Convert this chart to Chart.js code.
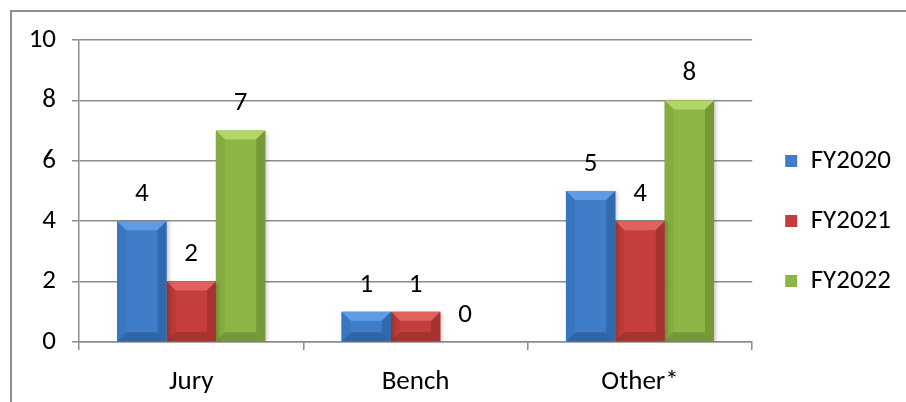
<!DOCTYPE html>
<html>
<head>
<meta charset="utf-8">
<script src="https://cdn.jsdelivr.net/npm/chart.js@4/dist/chart.umd.min.js"></script>
<style>
  html, body { margin: 0; padding: 0; background: #fff; overflow: hidden; }
  #frame { position: absolute; left: 10px; top: 10px; width: 1000px; height: 1000px; border: 2px solid #8f8f8f; }
  #wrap { position: absolute; left: 0; top: 0; width: 906px; height: 402px; }
</style>
</head>
<body>
<div id="frame"></div>
<div id="wrap"><canvas id="chart" width="906" height="402"></canvas></div>
<script>
// data
var categories = ['Jury', 'Bench', 'Other*'];
var seriesNames = ['FY2020', 'FY2021', 'FY2022'];
var fy2020 = [4, 1, 5];
var fy2021 = [2, 1, 4];
var fy2022 = [7, 0, 8];
var yTicks = [0, 2, 4, 6, 8, 10];

var FONT = "Carlito, Lato, 'Liberation Sans', sans-serif";
var FSIZE = 27;

// base / top / left / right / bottom shades for the bevelled look
var shades = [
  { base: '#3F7DC9', top: '#5E9DE4', left: '#3A76BF', right: '#3169AC', bottom: '#3066A8' },
  { base: '#C43E3B', top: '#E0625F', left: '#BA3A37', right: '#A73330', bottom: '#A43331' },
  { base: '#8DB545', top: '#B2D665', left: '#86AC41', right: '#769839', bottom: '#759739' }
];

var bevelPlugin = {
  id: 'bevel',
  beforeDatasetDraw: function (chart) {
    var ctx = chart.ctx;
    ctx.save();
    ctx.shadowColor = 'rgba(0,0,0,0.22)';
    ctx.shadowBlur = 4;
    ctx.shadowOffsetX = 2;
    ctx.shadowOffsetY = 1;
  },
  afterDatasetDraw: function (chart, args) {
    var ctx = chart.ctx;
    ctx.restore();
    var sh = shades[args.index];
    args.meta.data.forEach(function (bar) {
      var p = bar.getProps(['x', 'y', 'base', 'width'], true);
      var x0 = p.x - p.width / 2, x1 = p.x + p.width / 2;
      var y0 = p.y, y1 = p.base;
      if (y1 - y0 < 2) return;
      var b = Math.min(9, (y1 - y0) / 2);
      function poly(pts, c) {
        ctx.beginPath();
        ctx.moveTo(pts[0][0], pts[0][1]);
        for (var i = 1; i < pts.length; i++) ctx.lineTo(pts[i][0], pts[i][1]);
        ctx.closePath();
        ctx.fillStyle = c;
        ctx.fill();
      }
      poly([[x0, y0], [x1, y0], [x1 - b, y0 + b], [x0 + b, y0 + b]], sh.top);
      poly([[x0, y0], [x0 + b, y0 + b], [x0 + b, y1 - b], [x0, y1]], sh.left);
      poly([[x1, y0], [x1, y1], [x1 - b, y1 - b], [x1 - b, y0 + b]], sh.right);
      poly([[x0, y1], [x0 + b, y1 - b], [x1 - b, y1 - b], [x1, y1]], sh.bottom);
    });
  }
};

var valueLabels = {
  id: 'valueLabels',
  afterDatasetsDraw: function (chart) {
    var ctx = chart.ctx;
    ctx.save();
    ctx.font = FSIZE + 'px ' + FONT;
    ctx.fillStyle = '#000';
    ctx.textAlign = 'center';
    ctx.textBaseline = 'middle';
    chart.data.datasets.forEach(function (ds, i) {
      chart.getDatasetMeta(i).data.forEach(function (bar, j) {
        ctx.fillText(String(ds.data[j]), bar.x, bar.y - 27);
      });
    });
    ctx.restore();
  }
};

var ctx = document.getElementById('chart').getContext('2d');
new Chart(ctx, {
  type: 'bar',
  data: {
    labels: categories,
    datasets: [
      { label: seriesNames[0], data: fy2020, backgroundColor: shades[0].base },
      { label: seriesNames[1], data: fy2021, backgroundColor: shades[1].base },
      { label: seriesNames[2], data: fy2022, backgroundColor: shades[2].base }
    ]
  },
  options: {
    responsive: false,
    animation: false,
    devicePixelRatio: 1,
    layout: { padding: { top: 40, right: 5, bottom: 0, left: 0 } },
    datasets: { bar: { categoryPercentage: 0.66, barPercentage: 1 } },
    scales: {
      x: {
        grid: { drawOnChartArea: false, drawTicks: true, tickLength: 8, color: '#8c8c8c', lineWidth: 1.5, offset: true },
        border: { color: '#8c8c8c', width: 1.5 },
        ticks: { font: { family: FONT, size: FSIZE }, color: '#000', padding: 16 },
        afterFit: function (scale) { scale.height = 60; }
      },
      y: {
        min: 0, max: 10,
        afterBuildTicks: function (scale) { scale.ticks = yTicks.map(function (v) { return { value: v }; }); },
        grid: { color: '#8c8c8c', lineWidth: 1.5, tickLength: 7 },
        border: { color: '#8c8c8c', width: 1.5 },
        ticks: { font: { family: FONT, size: FSIZE }, color: '#000', padding: 16 },
        afterFit: function (scale) { scale.width = 79; }
      }
    },
    plugins: {
      legend: {
        position: 'right',
        labels: {
          font: { family: FONT, size: FSIZE },
          color: '#000',
          boxWidth: 12,
          boxHeight: 12,
          padding: 33
        }
      },
      tooltip: { enabled: false }
    }
  },
  plugins: [bevelPlugin, valueLabels]
});
</script>
</body>
</html>
